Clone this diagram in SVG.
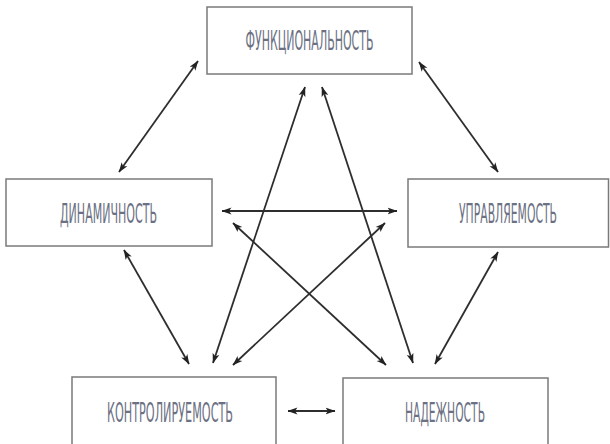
<svg xmlns="http://www.w3.org/2000/svg" width="610" height="444" viewBox="0 0 610 444">
<style>
.box{fill:#fff;stroke:#7a7a7a;stroke-width:1.5}
.lbl{font-family:"Liberation Sans Narrow","DejaVu Sans Condensed","Liberation Sans",sans-serif;font-size:26px;fill:#6b7083;text-anchor:middle;letter-spacing:0}
.c{stroke:#2e2e2e;stroke-width:1.8;fill:none;marker-start:url(#ah);marker-end:url(#ah)}
</style>
<defs>
<marker id="ah" viewBox="0 0 10 8" refX="9.5" refY="4" markerWidth="10" markerHeight="8" markerUnits="userSpaceOnUse" orient="auto-start-reverse">
<path d="M0,0.5 L10,4 L0,7.5 L2.5,4 z" fill="#222"/>
</marker>
</defs>
<rect width="610" height="444" fill="#fff"/>
<g id="node-func"><rect class="box" x="207" y="7" width="205" height="67"/><text class="lbl" x="309.5" y="50" textLength="128" lengthAdjust="spacingAndGlyphs">ФУНКЦИОНАЛЬНОСТЬ</text></g>
<g id="node-din"><rect class="box" x="6" y="179" width="206" height="67"/><text class="lbl" x="108.5" y="223" textLength="97" lengthAdjust="spacingAndGlyphs">ДИНАМИЧНОСТЬ</text></g>
<g id="node-upr"><rect class="box" x="408" y="179" width="200.5" height="68"/><text class="lbl" x="508" y="223" textLength="98" lengthAdjust="spacingAndGlyphs">УПРАВЛЯЕМОСТЬ</text></g>
<g id="node-kontr"><rect class="box" x="72" y="377" width="204" height="72"/><text class="lbl" x="170" y="422" textLength="126" lengthAdjust="spacingAndGlyphs">КОНТРОЛИРУЕМОСТЬ</text></g>
<g id="node-nad"><rect class="box" x="343" y="378" width="205" height="72"/><text class="lbl" x="445" y="422" textLength="80" lengthAdjust="spacingAndGlyphs">НАДЕЖНОСТЬ</text></g>
<g id="connectors">
<line class="c" x1="198" y1="61" x2="119" y2="172"/>
<line class="c" x1="419" y1="62" x2="498" y2="172"/>
<line class="c" x1="124" y1="250" x2="189" y2="364"/>
<line class="c" x1="305" y1="87" x2="213" y2="363"/>
<line class="c" x1="322" y1="87" x2="413" y2="363"/>
<line class="c" x1="222" y1="211" x2="397" y2="211"/>
<line class="c" x1="233" y1="223" x2="386" y2="365"/>
<line class="c" x1="385" y1="223" x2="233" y2="365"/>
<line class="c" x1="498" y1="252" x2="435" y2="364"/>
<line class="c" x1="288" y1="411" x2="335" y2="411"/>
</g>
</svg>
